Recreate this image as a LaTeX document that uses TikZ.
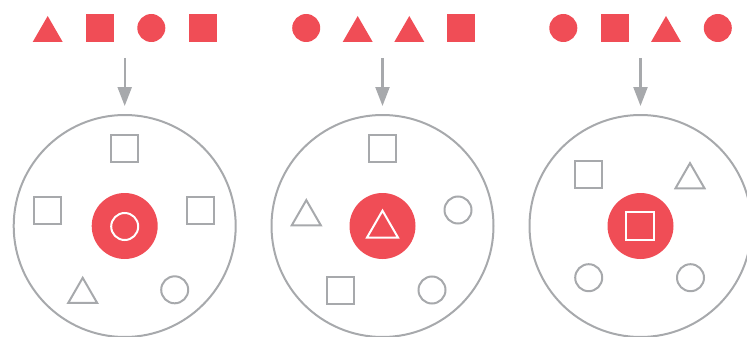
\documentclass[tikz,border=0pt]{standalone}
\usetikzlibrary{shapes.geometric,arrows.meta}
\definecolor{accent}{HTML}{F04D56}
\definecolor{stone}{HTML}{A7A9AC}
\tikzset{
  every node/.style={outer sep=0pt, inner sep=0pt},
  % filled tokens in the input rows
  tokdisc/.style={circle, fill=accent, minimum size=28pt},
  toksq/.style={rectangle, fill=accent, minimum size=28pt},
  toktri/.style={regular polygon, regular polygon sides=3, fill=accent, minimum size=34.6pt},
  % pools and their contents
  pool/.style={circle, draw=stone, line width=2pt, minimum size=222pt},
  hub/.style={circle, fill=accent, minimum size=66pt},
  gsq/.style={rectangle, draw=stone, line width=2pt, minimum size=27pt},
  gdisc/.style={circle, draw=stone, line width=2pt, minimum size=27pt},
  gtri/.style={regular polygon, regular polygon sides=3, draw=stone, line width=2pt, minimum size=33.5pt},
  wsq/.style={rectangle, draw=white, line width=2pt, minimum size=28pt},
  wdisc/.style={circle, draw=white, line width=2pt, minimum size=27pt},
  wtri/.style={regular polygon, regular polygon sides=3, draw=white, line width=2pt, minimum size=35.8pt},
  feed/.style={draw=stone, line width=2.3pt, -{Triangle[width=14pt,length=19pt]}, shorten >=9pt}
}
\begin{document}
\begin{tikzpicture}[x=1pt,y=-1pt]
\useasboundingbox (0,0) rectangle (747,337);

% input row 1
\node[toktri]  (r1a) at (47.7,33.3) {};
\node[toksq]   (r1b) at (100,28) {};
\node[tokdisc] (r1c) at (151.3,28) {};
\node[toksq]   (r1d) at (203,28) {};
% input row 2
\node[tokdisc] (r2a) at (306.2,28) {};
\node[toktri]  (r2b) at (357.7,33.3) {};
\node[toktri]  (r2c) at (409.3,33.3) {};
\node[toksq]   (r2d) at (461,28) {};
% input row 3
\node[tokdisc] (r3a) at (563.3,28) {};
\node[toksq]   (r3b) at (615,28) {};
\node[toktri]  (r3c) at (666,33.3) {};
\node[tokdisc] (r3d) at (717.8,28) {};

% pool 1
\node[pool] (p1) at (124.7,226) {};
\node[hub]  (h1) at (124.7,226) {};
\node[wdisc] (h1s) at (124.7,226.5) {};
\node[gsq]   (p1a) at (124.3,148.8) {};
\node[gsq]   (p1b) at (47.7,210.2) {};
\node[gsq]   (p1c) at (200.2,210.2) {};
\node[gtri]  (p1d) at (82.7,294.6) {};
\node[gdisc] (p1e) at (174.7,289.8) {};

% pool 2
\node[pool] (p2) at (382.5,226) {};
\node[hub]  (h2) at (382.5,226) {};
\node[wtri]  (h2s) at (382.5,228.6) {};
\node[gsq]   (p2a) at (382,148.8) {};
\node[gtri]  (p2b) at (306.3,216.9) {};
\node[gdisc] (p2c) at (458,210) {};
\node[gsq]   (p2d) at (340.3,290) {};
\node[gdisc] (p2e) at (432,290) {};

% pool 3
\node[pool] (p3) at (640.5,226) {};
\node[hub]  (h3) at (640.5,226) {};
\node[wsq]   (h3s) at (640.3,226.3) {};
\node[gsq]   (p3a) at (588.3,174.7) {};
\node[gtri]  (p3b) at (690,179.9) {};
\node[gdisc] (p3c) at (588.7,277.7) {};
\node[gdisc] (p3d) at (690.5,277.7) {};

% feeds from the rows into the pools
\coordinate (f1) at (124.7,58);
\coordinate (f2) at (382.5,58);
\coordinate (f3) at (640.5,58);
\draw[feed] (f1) -- (p1.north);
\draw[feed] (f2) -- (p2.north);
\draw[feed] (f3) -- (p3.north);
\end{tikzpicture}
\end{document}
